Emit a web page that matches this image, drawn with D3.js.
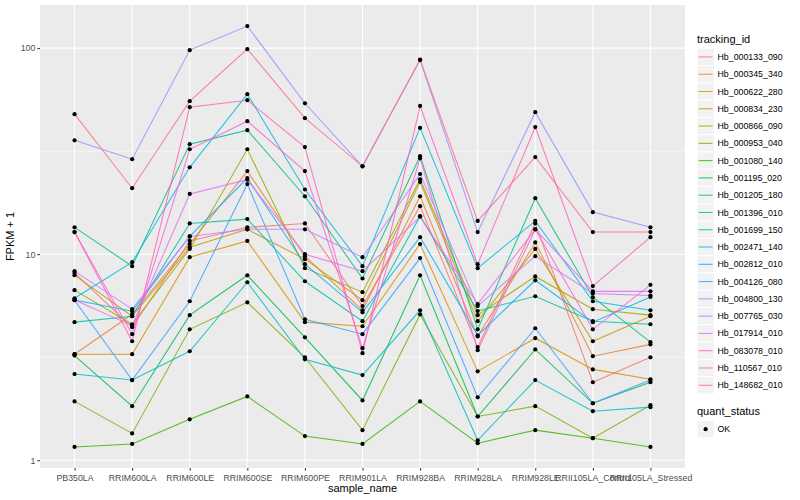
<!DOCTYPE html>
<html><head><meta charset="utf-8">
<script src="https://cdn.jsdelivr.net/npm/d3@7"></script>
<style>body{margin:0;background:#fff}svg{display:block;font-family:"Liberation Sans",Arial,Helvetica,sans-serif}</style>
</head><body><svg id="c" width="800" height="500"></svg>
<script>
const categories = ["PB350LA","RRIM600LA","RRIM600LE","RRIM600SE","RRIM600PE","RRIM901LA","RRIM928BA","RRIM928LA","RRIM928LE","RRII105LA_Control","RRII105LA_Stressed"];
const trackingIds = ["Hb_000133_090","Hb_000345_340","Hb_000622_280","Hb_000834_230","Hb_000866_090","Hb_000953_040","Hb_001080_140","Hb_001195_020","Hb_001205_180","Hb_001396_010","Hb_001699_150","Hb_002471_140","Hb_002812_010","Hb_004126_080","Hb_004800_130","Hb_007765_030","Hb_017914_010","Hb_083078_010","Hb_110567_010","Hb_148682_010"];
// FPKM + 1 per tracking_id, in category order
const fpkmPlus1 = [
 [8.1, 4.42, 11.6, 13.5, 14.1, 5.6, 17.1, 3.54, 14.1, 2.39, 3.16],
 [3.27, 5.11, 11.2, 25.3, 9.78, 5.34, 19.1, 3.99, 11.4, 3.2, 3.65],
 [3.27, 3.27, 9.67, 11.6, 4.68, 4.47, 11.2, 2.70, 3.91, 2.76, 2.47],
 [7.91, 5.0, 10.8, 13.2, 9.46, 5.98, 22.4, 4.73, 10.6, 3.78, 5.0],
 [6.69, 4.57, 10.6, 32.3, 8.55, 6.54, 23.1, 5.06, 7.8, 5.41, 5.06],
 [1.93, 1.35, 4.32, 5.84, 3.16, 1.40, 5.1, 1.63, 1.83, 1.28, 1.85],
 [1.16, 1.20, 1.58, 2.04, 1.31, 1.20, 1.93, 1.21, 1.40, 1.28, 1.16],
 [3.22, 1.83, 5.06, 7.9, 3.95, 1.95, 7.9, 1.63, 3.45, 1.89, 2.39],
 [13.5, 8.75, 34.2, 40.0, 19.1, 7.62, 29.9, 4.32, 18.7, 6.18, 3.74],
 [4.68, 5.0, 14.1, 14.8, 7.39, 4.73, 15.3, 5.3, 6.25, 4.73, 4.57],
 [2.62, 2.45, 3.38, 7.31, 3.09, 2.59, 5.34, 1.25, 2.45, 1.73, 1.81],
 [6.11, 9.15, 26.4, 59.8, 20.6, 8.75, 41.0, 8.55, 14.5, 5.91, 5.34],
 [6.0, 5.29, 12.2, 23.4, 8.94, 5.22, 12.1, 4.04, 7.47, 4.68, 6.2],
 [5.98, 2.45, 5.91, 21.9, 4.83, 4.09, 9.57, 2.02, 4.37, 1.89, 2.45],
 [35.7, 28.9, 97.8, 128, 54, 26.7, 87.5, 12.8, 48.9, 16, 13.5],
 [8.27, 5.41, 12.2, 13.2, 13.2, 9.67, 24.5, 5.6, 9.78, 6.45, 6.3],
 [6.0, 4.5, 19.6, 23.0, 10.0, 8.27, 15.2, 5.72, 13.2, 6.6, 6.6],
 [12.8, 4.09, 32.3, 44.2, 25.3, 3.5, 29.2, 3.42, 13.2, 4.32, 7.1],
 [12.8, 3.78, 51.7, 55.9, 33.1, 3.31, 52.4, 8.94, 41.4, 7.0, 12.1],
 [47.8, 20.9, 55.3, 98.9, 45.7, 26.7, 88, 14.5, 29.6, 12.8, 12.8]
];
const yTicks = [1, 10, 100];
const yMinor = [Math.sqrt(10), Math.sqrt(1000)];
const quantStatus = ["OK"];
const palette = ["#F8766D","#EA8331","#D89000","#C09B00","#A3A500","#7CAE00","#39B600","#00BB4E","#00BF7D","#00C1A3","#00BFC4","#00BAE0","#00B0F6","#35A2FF","#9590FF","#C77CFF","#E76BF3","#FA62DB","#FF62BC","#FF6C91"];

const svg = d3.select("#c");
const P = {l: 40, r: 685, t: 5, b: 468};
const x = d3.scalePoint().domain(categories).range([P.l, P.r]).padding(0.6);
const allV = fpkmPlus1.flat();
const lo = Math.log10(d3.min(allV)), hi = Math.log10(d3.max(allV));
const ex = (hi - lo) * 0.05;
const y = d3.scaleLog().domain([Math.pow(10, lo - ex), Math.pow(10, hi + ex)]).range([P.b, P.t]);
const color = d3.scaleOrdinal().domain(trackingIds).range(palette);

svg.append("rect").attr("x", P.l).attr("y", P.t).attr("width", P.r - P.l).attr("height", P.b - P.t).attr("fill", "#EBEBEB");
const g = svg.append("g");
g.selectAll(".mn").data(yMinor).join("line").attr("x1", P.l).attr("x2", P.r)
 .attr("y1", d => y(d)).attr("y2", d => y(d)).attr("stroke", "#fff").attr("stroke-width", 0.55);
g.selectAll(".mj").data(yTicks).join("line").attr("x1", P.l).attr("x2", P.r)
 .attr("y1", d => y(d)).attr("y2", d => y(d)).attr("stroke", "#fff").attr("stroke-width", 1.07);
g.selectAll(".vx").data(categories).join("line").attr("y1", P.t).attr("y2", P.b)
 .attr("x1", d => x(d)).attr("x2", d => x(d)).attr("stroke", "#fff").attr("stroke-width", 1.07);

const line = d3.line().x((d, i) => x(categories[i])).y(d => y(d));
svg.append("g").selectAll("path").data(fpkmPlus1).join("path")
 .attr("d", d => line(d)).attr("fill", "none")
 .attr("stroke", (d, i) => color(trackingIds[i])).attr("stroke-width", 1.05).attr("stroke-opacity", 0.85);

const pts = [];
fpkmPlus1.forEach((s, i) => s.forEach((v, j) => pts.push({c: categories[j], v})));
svg.append("g").selectAll("circle").data(pts).join("circle")
 .attr("cx", d => x(d.c)).attr("cy", d => y(d.v)).attr("r", 2.1).attr("fill", "#000");

// axes
const ax = svg.append("g").attr("transform", `translate(0,${P.b})`)
 .call(d3.axisBottom(x).tickSize(2.7).tickPadding(2));
const ay = svg.append("g").attr("transform", `translate(${P.l},0)`)
 .call(d3.axisLeft(y).tickValues(yTicks).tickFormat(d3.format("d")).tickSize(2.7).tickPadding(2));
[ax, ay].forEach(a => {
  a.select(".domain").remove();
  a.selectAll(".tick line").attr("stroke", "#333333");
  a.selectAll("text").attr("fill", "#4D4D4D").style("font-size", "8.8px");
});
ax.selectAll("text").attr("dy", "0.9em");

svg.append("text").attr("x", (P.l + P.r) / 2).attr("y", 492).attr("text-anchor", "middle")
 .style("font-size", "11px").attr("fill", "#000").text("sample_name");
svg.append("text").attr("transform", `translate(14,${(P.t + P.b) / 2}) rotate(-90)`).attr("text-anchor", "middle")
 .style("font-size", "11px").attr("fill", "#000").text("FPKM + 1");

// legend tracking_id
const L = svg.append("g");
L.append("text").attr("x", 697).attr("y", 43).style("font-size", "11px").text("tracking_id");
const keyH = 17.28, key0 = 48.3;
const items = L.selectAll("g.it").data(trackingIds).join("g").attr("transform", (d, i) => `translate(697,${key0 + i * keyH})`);
items.append("rect").attr("width", 17.28).attr("height", 17.28).attr("fill", "#F2F2F2").attr("stroke", "#fff").attr("stroke-width", 1);
items.append("line").attr("x1", 1.7).attr("x2", 15.6).attr("y1", 8.64).attr("y2", 8.64)
 .attr("stroke", d => color(d)).attr("stroke-width", 1.05).attr("stroke-opacity", 0.85);
items.append("text").attr("x", 20.5).attr("y", 8.64).attr("dy", "0.35em").style("font-size", "8.8px").text(d => d);

// legend quant_status
const Q = svg.append("g");
Q.append("text").attr("x", 697).attr("y", 415).style("font-size", "11px").text("quant_status");
const qi = Q.selectAll("g.q").data(quantStatus).join("g").attr("transform", (d, i) => `translate(697,${420.5 + i * keyH})`);
qi.append("rect").attr("width", 17.28).attr("height", 17.28).attr("fill", "#F2F2F2").attr("stroke", "#fff");
qi.append("circle").attr("cx", 8.64).attr("cy", 8.64).attr("r", 2.1).attr("fill", "#000");
qi.append("text").attr("x", 20.5).attr("y", 8.64).attr("dy", "0.35em").style("font-size", "8.8px").text(d => d);
</script></body></html>
